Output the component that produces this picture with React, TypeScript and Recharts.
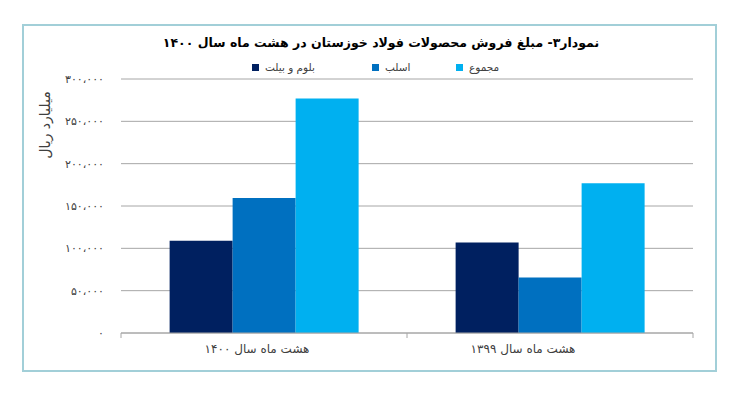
import React from 'react';
import { BarChart, Bar, XAxis, YAxis, CartesianGrid } from 'recharts';

// داده‌ها (میلیارد ریال)
const categories = ['هشت ماه سال ۱۴۰۰', 'هشت ماه سال ۱۳۹۹'];
const bloomBillet = [109000, 107000];
const slab = [159500, 65500];
const total = [277000, 177000];
const yTicks = [0, 50000, 100000, 150000, 200000, 250000, 300000];

const seriesNames = ['بلوم و بیلت', 'اسلب', 'مجموع'];
const seriesColors = ['#002060', '#0070c0', '#00b0f0'];

const legendLeft = [252, 372, 456];
const labelShift = [-7, -27];

const data = categories.map((name, i) => ({
  name,
  bloom: bloomBillet[i],
  slab: slab[i],
  total: total[i],
}));

const FONT = '"DejaVu Sans", sans-serif';

const faDigits = '۰۱۲۳۴۵۶۷۸۹';
const toFa = (n: number) =>
  n
    .toString()
    .replace(/\B(?=(\d{3})+(?!\d))/g, '،')
    .replace(/\d/g, (d) => faDigits[Number(d)]);

const CategoryTick = (props: any) => {
  const { x, y, payload, index } = props;
  const half = payload && payload.offset ? payload.offset : 143;
  return (
    <g>
      <line x1={x - half} y1={y - 8} x2={x - half} y2={y - 3} stroke="#a6a6a6" />
      {index === categories.length - 1 && (
        <line x1={x + half} y1={y - 8} x2={x + half} y2={y - 3} stroke="#a6a6a6" />
      )}
      <text
        x={x + (labelShift[index] || 0)}
        y={y + 12}
        textAnchor="middle"
        fontFamily={FONT}
        fontSize={12}
        fill="#404040"
        direction="rtl"
      >
        {payload.value}
      </text>
    </g>
  );
};

export default function App() {
  return (
    <div style={{ position: 'absolute', left: 0, top: 0, width: 734, height: 399, background: '#fff' }}>
      <div
        style={{
          position: 'absolute',
          left: 22,
          top: 24,
          width: 695,
          height: 348,
          border: '2px solid #a2cfd8',
          boxSizing: 'border-box',
        }}
      />
      <div
        dir="rtl"
        style={{
          position: 'absolute',
          left: 0,
          width: 762,
          top: 35,
          textAlign: 'center',
          fontFamily: FONT,
          fontWeight: 'bold',
          fontSize: 12.5,
          color: '#000',
          whiteSpace: 'nowrap',
        }}
      >
        نمودار۳- مبلغ فروش محصولات فولاد خوزستان در هشت ماه سال ۱۴۰۰
      </div>
      {seriesNames.map((name, i) => (
        <div
          key={name}
          style={{
            position: 'absolute',
            left: legendLeft[i],
            top: 61,
            display: 'flex',
            alignItems: 'center',
            fontFamily: FONT,
            fontSize: 10.5,
            color: '#404040',
            whiteSpace: 'nowrap',
          }}
        >
          <span style={{ width: 7, height: 7, background: seriesColors[i], marginRight: 6 }} />
          <span dir="rtl">{name}</span>
        </div>
      ))}
      <div
        dir="rtl"
        style={{
          position: 'absolute',
          left: 45,
          top: 125,
          transform: 'translate(-50%, -50%) rotate(-90deg)',
          fontFamily: FONT,
          fontSize: 14,
          color: '#404040',
          whiteSpace: 'nowrap',
        }}
      >
        میلیارد ریال
      </div>
      <div style={{ position: 'absolute', left: 0, top: 0 }}>
        <BarChart
          width={734}
          height={399}
          data={data}
          margin={{ top: 79, right: 41, bottom: 36, left: 61 }}
          barCategoryGap="17%"
          barGap={0}
        >
          <CartesianGrid vertical={false} stroke="#a6a6a6" />
          <XAxis
            dataKey="name"
            height={30}
            axisLine={{ stroke: '#a6a6a6' }}
            tickLine={false}
            interval={0}
            tick={<CategoryTick />}
          />
          <YAxis
            width={60}
            domain={[0, 300000]}
            ticks={yTicks}
            axisLine={false}
            tickLine={false}
            tickSize={0}
            tickMargin={17}
            tickFormatter={toFa}
            tick={{ fontFamily: FONT, fontSize: 11, fill: '#404040', letterSpacing: 2.5 }}
          />
          <Bar dataKey="bloom" name={seriesNames[0]} fill={seriesColors[0]} isAnimationActive={false} />
          <Bar dataKey="slab" name={seriesNames[1]} fill={seriesColors[1]} isAnimationActive={false} />
          <Bar dataKey="total" name={seriesNames[2]} fill={seriesColors[2]} isAnimationActive={false} />
        </BarChart>
      </div>
    </div>
  );
}
